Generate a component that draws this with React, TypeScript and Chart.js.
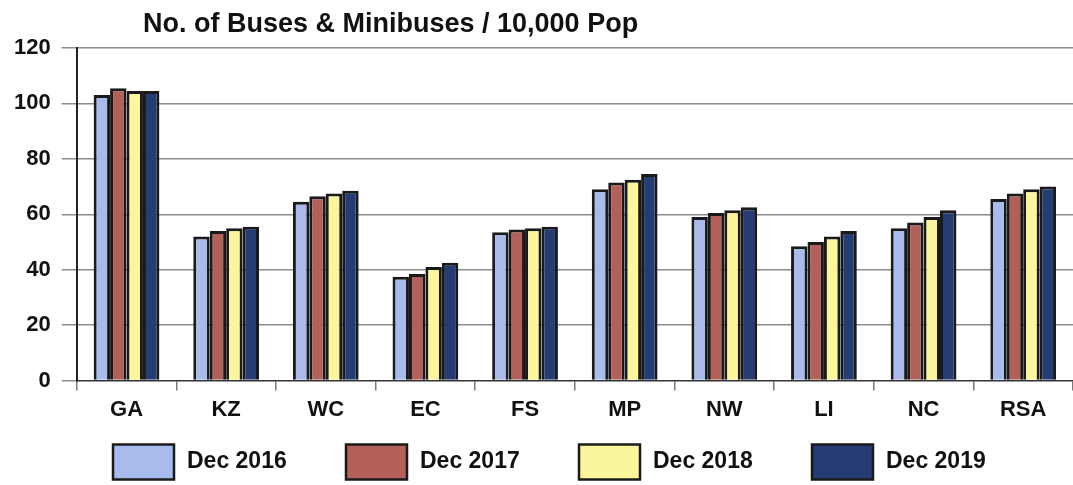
import React, { useEffect, useRef } from "react";
import { Chart, registerables } from "chart.js";

Chart.register(...registerables);

const FONT = '"Liberation Sans", Arial, Helvetica, sans-serif';

const TITLE = "No. of Buses & Minibuses / 10,000 Pop";
const categories = ["GA", "KZ", "WC", "EC", "FS", "MP", "NW", "LI", "NC", "RSA"];
const seriesNames = ["Dec 2016", "Dec 2017", "Dec 2018", "Dec 2019"];

const dec2016 = [103, 52, 64.5, 37.5, 53.5, 69, 59, 48.5, 55, 65.5];
const dec2017 = [105.5, 54, 66.5, 38.5, 54.5, 71.5, 60.5, 50, 57, 67.5];
const dec2018 = [104.5, 55, 67.5, 41, 55, 72.5, 61.5, 52, 59, 69];
const dec2019 = [104.5, 55.5, 68.5, 42.5, 55.5, 74.5, 62.5, 54, 61.5, 70];

const seriesValues = [dec2016, dec2017, dec2018, dec2019];
const seriesColors = ["#a9baec", "#b3605b", "#fbf59c", "#253d74"];

const yMin = 0;
const yMax = 120;
const yMinorStep = 10;
const yLabelStep = 20;

const titlePlugin = {
  id: "scanTitle",
  afterDraw(chart: any) {
    const ctx = chart.ctx;
    ctx.save();
    ctx.font = `bold 27px ${FONT}`;
    ctx.fillStyle = "#111";
    ctx.textBaseline = "alphabetic";
    ctx.textAlign = "left";
    ctx.fillText(TITLE, 143, 32);
    ctx.restore();
  },
};

const legendPlugin = {
  id: "scanLegend",
  afterDraw(chart: any) {
    const ctx = chart.ctx;
    const startX = 113;
    const step = 233;
    const boxW = 61;
    const boxH = 35;
    const cy = 462;
    ctx.save();
    chart.data.datasets.forEach((ds: any, i: number) => {
      const x = startX + i * step;
      ctx.fillStyle = ds.backgroundColor;
      ctx.fillRect(x, cy - boxH / 2, boxW, boxH);
      ctx.lineWidth = 2.5;
      ctx.strokeStyle = "#1a1a1a";
      ctx.strokeRect(x, cy - boxH / 2, boxW, boxH);
      ctx.font = `bold 23px ${FONT}`;
      ctx.fillStyle = "#111";
      ctx.textBaseline = "middle";
      ctx.textAlign = "left";
      ctx.fillText(ds.label, x + boxW + 13, cy);
    });
    ctx.restore();
  },
};

export default function App() {
  const canvasRef = useRef<HTMLCanvasElement | null>(null);

  useEffect(() => {
    if (!canvasRef.current) return;
    const chart = new Chart(canvasRef.current, {
      type: "bar",
      data: {
        labels: categories,
        datasets: seriesNames.map((name, i) => ({
          label: name,
          data: seriesValues[i],
          backgroundColor: seriesColors[i],
          borderColor: "#1a1a1a",
          borderWidth: 3,
          categoryPercentage: 0.66,
          barPercentage: 1,
        })),
      },
      options: {
        responsive: true,
        maintainAspectRatio: false,
        animation: false,
        layout: { padding: { top: 48, left: 3, right: 0, bottom: 56 } },
        plugins: {
          legend: { display: false },
          title: { display: false },
          tooltip: { enabled: false },
        },
        scales: {
          x: {
            grid: {
              offset: true,
              drawOnChartArea: false,
              drawTicks: true,
              tickLength: 10,
              color: "#7a7a7a",
              lineWidth: 1.5,
            },
            border: { color: "#333", width: 1.5 },
            ticks: {
              font: { family: FONT, size: 22, weight: "bold" },
              color: "#111",
              padding: 6,
            },
          },
          y: {
            min: yMin,
            max: yMax,
            ticks: {
              stepSize: yMinorStep,
              callback: (v: any) => (Number(v) % yLabelStep === 0 ? String(v) : ""),
              font: { family: FONT, size: 22, weight: "bold" },
              color: "#111",
              padding: 11,
            },
            grid: {
              color: (c: any) =>
                c.tick && c.tick.value % yLabelStep === 0 && c.tick.value !== 0
                  ? "#8c8c8c"
                  : "rgba(0,0,0,0)",
              tickColor: "#8c8c8c",
              tickLength: 15,
              lineWidth: 1.5,
            },
            border: { color: "#222", width: 2 },
          },
        },
      },
      plugins: [titlePlugin, legendPlugin],
    });
    return () => chart.destroy();
  }, []);

  return (
    <div style={{ position: "absolute", left: 0, top: 0, width: 1073, height: 485, background: "#fff" }}>
      <canvas ref={canvasRef} />
    </div>
  );
}
